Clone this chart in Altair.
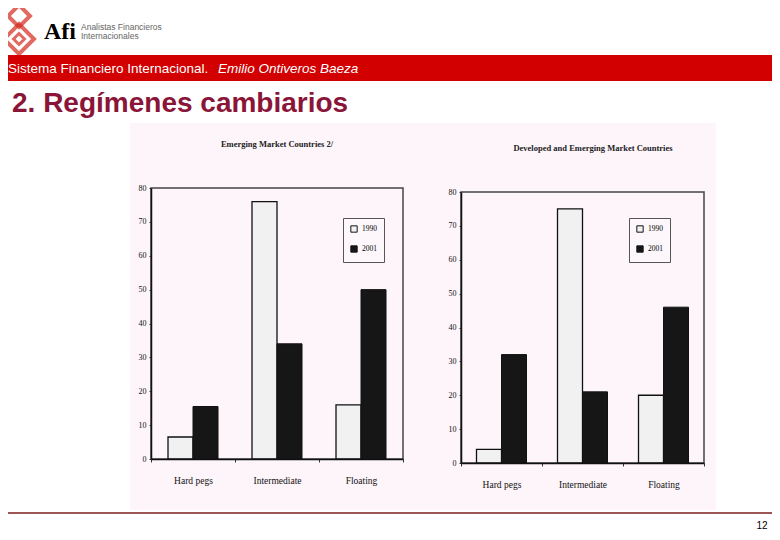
import altair as alt
import pandas as pd

# ---------------- data ----------------
categories = ["Hard pegs", "Intermediate", "Floating"]
years = ["1990", "2001"]
emerging_1990 = [6.5, 76, 16]
emerging_2001 = [15.5, 34, 50]
all_1990 = [4, 75, 20]
all_2001 = [32, 21, 46]
y_ticks = [0, 10, 20, 30, 40, 50, 60, 70, 80]

W, H = 764, 524
one = alt.Data(values=[{"k": 1}])


def txt(s, x, y, size, color="black", font="Liberation Sans", weight="normal",
        style="normal", align="left"):
    return alt.Chart(one).mark_text(
        align=align, baseline="alphabetic", fontSize=size, color=color,
        font=font, fontWeight=weight, fontStyle=style
    ).encode(x=alt.value(x), y=alt.value(y), text=alt.value(s))


def box(x, x2, y, y2, fill=None, stroke=None, sw=1):
    kw = {}
    if fill is not None:
        kw["fill"] = fill
    else:
        kw["fillOpacity"] = 0
    if stroke is not None:
        kw["stroke"] = stroke
        kw["strokeWidth"] = sw
    return alt.Chart(one).mark_rect(**kw).encode(
        x=alt.value(x), x2=alt.value(x2), y=alt.value(y), y2=alt.value(y2))


def panel(v90, v01, xr, yr, lx, ly):
    rows = []
    for c, a, b in zip(categories, v90, v01):
        rows.append({"cat": c, "year": years[0], "value": a})
        rows.append({"cat": c, "year": years[1], "value": b})
    df = pd.DataFrame(rows)
    base = alt.Chart(df).encode(
        x=alt.X("cat:N", sort=categories,
                scale=alt.Scale(domain=categories, range=xr,
                                paddingInner=0, paddingOuter=0),
                axis=alt.Axis(orient="bottom", offset=yr[0] - H, title=None,
                              labelAngle=0, labelFont="Liberation Serif",
                              labelFontSize=9.5, labelColor="#111",
                              labelPadding=13, tickBand="extent", tickSize=3,
                              tickColor="#333", domainColor="#111",
                              domainWidth=1.5, grid=False, zindex=1)),
        y=alt.Y("value:Q",
                scale=alt.Scale(domain=[0, 80], range=yr, nice=False),
                axis=alt.Axis(orient="left", offset=-xr[0], title=None,
                              values=y_ticks, labelFont="Liberation Serif",
                              labelFontSize=8, labelColor="#111",
                              labelPadding=3, tickSize=2, tickColor="#333",
                              domainColor="#111", domainWidth=1.5,
                              grid=False, zindex=1)),
        color=alt.Color("year:N",
                        scale=alt.Scale(domain=years,
                                        range=["#f1f1f1", "#161616"]),
                        legend=alt.Legend(orient="none", legendX=lx,
                                          legendY=ly, title=None,
                                          strokeColor="#555", padding=7,
                                          symbolType="square", symbolSize=40,
                                          symbolStrokeColor="#111",
                                          symbolStrokeWidth=1,
                                          labelFont="Liberation Serif",
                                          labelFontSize=7.5, rowPadding=8,
                                          labelColor="black",
                                          fillColor="#fdf7fb")),
    )
    b1 = base.mark_bar(width=25, xOffset=-12.5, stroke="#111",
                       strokeWidth=1.3).transform_filter(
        alt.datum.year == years[0])
    b2 = base.mark_bar(width=25, xOffset=12.5, stroke="#111",
                       strokeWidth=1.0).transform_filter(
        alt.datum.year == years[1])
    frame = box(xr[0], xr[1], yr[1], yr[0], stroke="#444", sw=1.5)
    return alt.layer(frame, b1, b2)


# ---------------- header / slide ----------------
logo_top = alt.Chart(one).mark_point(shape="diamond", filled=False,
                                     stroke="#d42a1e", strokeWidth=4,
                                     size=480).encode(
    x=alt.value(11), y=alt.value(8))
logo_bot = alt.Chart(one).mark_point(shape="diamond", filled=False,
                                     stroke="#d42a1e", strokeWidth=4,
                                     size=900).encode(
    x=alt.value(11), y=alt.value(31))
logo_in = alt.Chart(one).mark_point(shape="diamond", filled=False,
                                    stroke="#d42a1e", strokeWidth=3,
                                    size=120).encode(
    x=alt.value(11), y=alt.value(31))

layers = [
    box(122, 708, 115, 502, fill="#fdf5fa"),
    logo_top, logo_bot, logo_in,
    txt("Afi", 36, 31, 24, font="Liberation Serif", weight="bold"),
    txt("Analistas Financieros", 73, 22, 8.5, color="#666"),
    txt("Internacionales", 73, 31, 8.5, color="#666"),
    box(0, W, 47, 73, fill="#d20000"),
    txt("Sistema Financiero Internacional.", 0, 65, 13.5, color="white"),
    txt("Emilio Ontiveros Baeza", 210, 65, 13.5, color="white",
        style="italic"),
    txt("2. Regímenes cambiarios", 4, 104, 28, color="#8a1538",
        weight="bold"),
    alt.Chart(one).mark_rule(color="#7a1c1c", strokeWidth=1.5).encode(
        x=alt.value(0), x2=alt.value(W), y=alt.value(505)),
    txt("12", 754, 521, 10, align="center"),
    txt("Emerging Market Countries 2/", 269, 139, 8.5,
        font="Liberation Serif", weight="bold", color="#222",
        align="center"),
    txt("Developed and Emerging Market Countries", 585, 143, 8.5,
        font="Liberation Serif", weight="bold", color="#222",
        align="center"),
    panel(emerging_1990, emerging_2001, [143, 395], [451, 180], 335, 210),
    panel(all_1990, all_2001, [453, 696], [455, 184], 621, 210),
]

chart = alt.layer(*layers).resolve_scale(
    x="independent", y="independent", color="independent"
).resolve_axis(x="independent", y="independent").resolve_legend(
    color="independent"
).properties(
    width=W, height=H, padding=0, autosize=alt.AutoSizeParams(type="none"),
    background="white"
).configure_view(stroke=None)

chart.save("out.html", embed_options={"renderer": "svg", "actions": False})
